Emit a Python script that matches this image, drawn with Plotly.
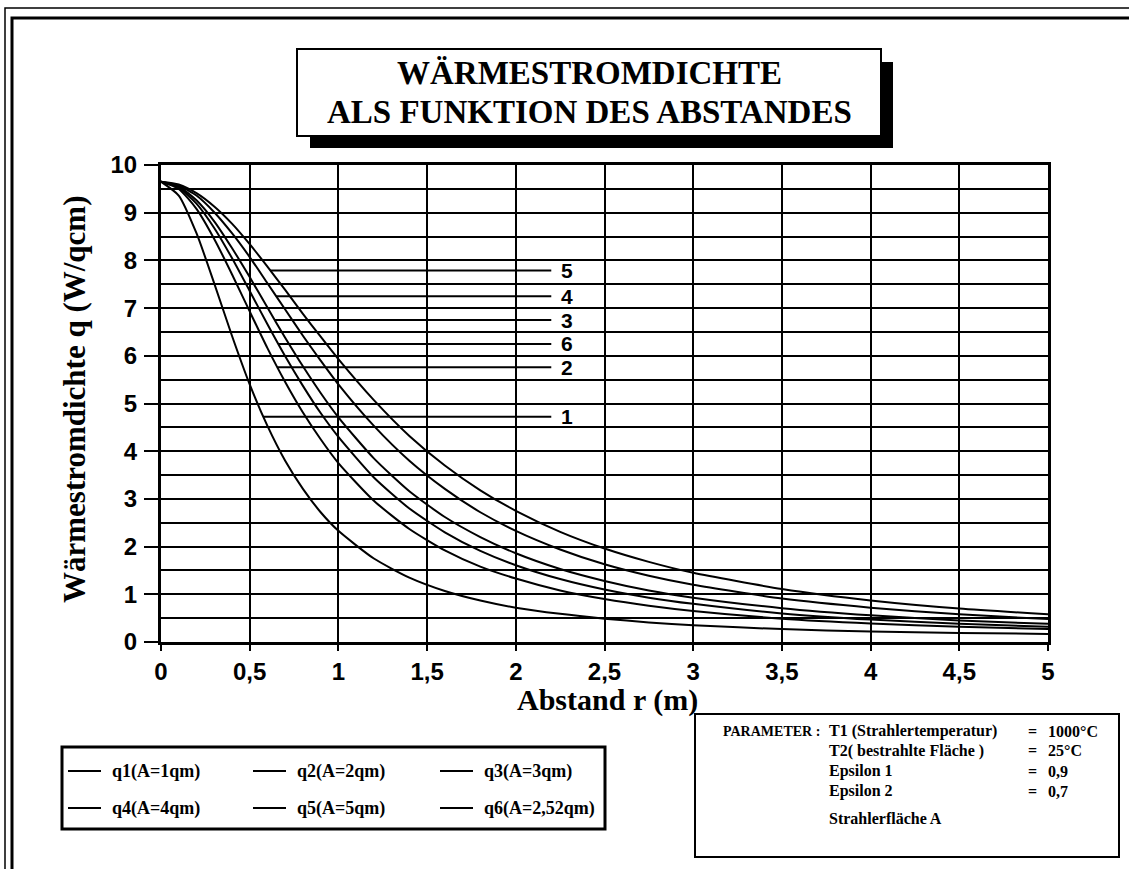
import numpy as np
import plotly.graph_objects as go

# Abstand r (m)
r = [0, 0.1, 0.2, 0.3, 0.4, 0.5, 0.6, 0.7, 0.8, 0.9, 1.0, 1.2, 1.4, 1.6, 1.8,
     2.0, 2.25, 2.5, 2.75, 3.0, 3.5, 4.0, 4.5, 5.0]

# Wärmestromdichte q (W/qcm) je Strahlerfläche
q1 = [9.65, 9.36, 8.57, 7.52, 6.42, 5.40, 4.53, 3.80, 3.21, 2.72, 2.33, 1.75, 1.35, 1.07, 0.87,
      0.72, 0.59, 0.49, 0.41, 0.35, 0.27, 0.22, 0.19, 0.17]
q2 = [9.65, 9.50, 9.08, 8.45, 7.71, 6.93, 6.16, 5.45, 4.81, 4.25, 3.75, 2.96, 2.37, 1.92, 1.58,
      1.33, 1.08, 0.90, 0.76, 0.65, 0.49, 0.39, 0.32, 0.27]
q3 = [9.65, 9.55, 9.26, 8.82, 8.26, 7.65, 7.01, 6.38, 5.78, 5.22, 4.71, 3.85, 3.16, 2.62, 2.20,
      1.86, 1.53, 1.28, 1.08, 0.93, 0.71, 0.56, 0.45, 0.38]
q4 = [9.65, 9.57, 9.36, 9.01, 8.57, 8.07, 7.52, 6.97, 6.42, 5.90, 5.40, 4.53, 3.80, 3.21, 2.72,
      2.33, 1.94, 1.63, 1.39, 1.20, 0.91, 0.72, 0.58, 0.48]
q5 = [9.65, 9.59, 9.41, 9.13, 8.77, 8.34, 7.87, 7.38, 6.88, 6.40, 5.93, 5.07, 4.32, 3.70, 3.18,
      2.75, 2.31, 1.96, 1.68, 1.45, 1.11, 0.87, 0.70, 0.58]
q6 = [9.65, 9.53, 9.19, 8.68, 8.05, 7.36, 6.66, 5.99, 5.37, 4.80, 4.30, 3.45, 2.80, 2.30, 1.91,
      1.61, 1.32, 1.10, 0.93, 0.80, 0.60, 0.47, 0.38, 0.32]

series = [q1, q2, q3, q4, q5, q6]
legend_names = ["q1(A=1qm)", "q2(A=2qm)", "q3(A=3qm)",
                "q4(A=4qm)", "q5(A=5qm)", "q6(A=2,52qm)"]

# Kurvenbeschriftung: Nummer und Höhe der Bezugslinie
curve_labels = ["5", "4", "3", "6", "2", "1"]
curve_label_q = [7.79, 7.25, 6.75, 6.25, 5.76, 4.72]

x_tickvals = [0, 0.5, 1, 1.5, 2, 2.5, 3, 3.5, 4, 4.5, 5]
x_ticktext = ["0", "0,5", "1", "1,5", "2", "2,5", "3", "3,5", "4", "4,5", "5"]
y_tickvals = [0, 1, 2, 3, 4, 5, 6, 7, 8, 9, 10]
y_ticktext = [str(v) for v in y_tickvals]
y_halfvals = [0.5, 1.5, 2.5, 3.5, 4.5, 5.5, 6.5, 7.5, 8.5, 9.5]

# Parameterangaben: Spalten Größe / "=" / Wert
param_head = "PARAMETER :"
param_rows = [
    ("T1 (Strahlertemperatur)", "=", "1000°C"),
    ("T2( bestrahlte Fläche )", "=", "25°C"),
    ("Epsilon 1", "=", "0,9"),
    ("Epsilon 2", "=", "0,7"),
    ("Strahlerfläche A", "", ""),
]

W, H = 1129, 869
L, R, T, B = 161, 81, 165, 227
PW, PH = W - L - R, H - T - B


def px(xp):
    return (xp - L) / PW


def py(yp):
    return (H - B - yp) / PH


SERIF = "Liberation Serif, Times New Roman, serif"
SANS = "Liberation Sans, Arial, sans-serif"
NARROW = "Liberation Sans Narrow, Arial Narrow, Liberation Sans, sans-serif"

fig = go.Figure()
for name, q in zip(legend_names, series):
    fig.add_trace(go.Scatter(x=r, y=q, mode="lines", name=name,
                             line=dict(color="black", width=2, shape="spline", smoothing=0.6),
                             showlegend=False, hoverinfo="skip"))

shapes = []
annotations = []

# Bezugslinien der Kurvennummern
label_series = {"1": q1, "2": q2, "3": q3, "4": q4, "5": q5, "6": q6}
for lab, qv in zip(curve_labels, curve_label_q):
    q = label_series[lab]
    x0 = float(np.interp(qv, q[::-1], r[::-1]))
    shapes.append(dict(type="line", xref="x", yref="y", x0=x0, x1=2.2, y0=qv, y1=qv,
                       line=dict(color="black", width=2)))
    annotations.append(dict(x=2.29, y=qv, xref="x", yref="y", text=lab, showarrow=False,
                            xanchor="center", yanchor="middle", borderpad=0,
                            font=dict(family=NARROW, size=21, color="black", weight="bold")))

# doppelter Rahmen
shapes.append(dict(type="rect", xref="paper", yref="paper", x0=px(5), x1=px(1140),
                   y0=py(880), y1=py(8), line=dict(color="black", width=1.5)))
shapes.append(dict(type="rect", xref="paper", yref="paper", x0=px(12), x1=px(1140),
                   y0=py(880), y1=py(18), line=dict(color="black", width=3)))

# Titelkasten mit Schatten
shapes.append(dict(type="rect", xref="paper", yref="paper", x0=px(310), x1=px(893),
                   y0=py(148), y1=py(62), fillcolor="black", line=dict(width=0)))
shapes.append(dict(type="rect", xref="paper", yref="paper", x0=px(297), x1=px(881),
                   y0=py(136), y1=py(49), fillcolor="white", line=dict(color="black", width=2)))
annotations.append(dict(x=px(589), y=py(73), xref="paper", yref="paper",
                        text="WÄRMESTROMDICHTE", showarrow=False, xanchor="center", yanchor="middle",
                        font=dict(family=SERIF, size=33, color="black", weight="bold")))
annotations.append(dict(x=px(589), y=py(112), xref="paper", yref="paper",
                        text="ALS FUNKTION DES ABSTANDES", showarrow=False, xanchor="center",
                        yanchor="middle",
                        font=dict(family=SERIF, size=33, color="black", weight="bold")))

# Achsentitel
annotations.append(dict(x=px(74), y=py(399), xref="paper", yref="paper",
                        text="Wärmestromdichte q (W/qcm)", showarrow=False, textangle=-90,
                        xanchor="center", yanchor="middle",
                        font=dict(family=SERIF, size=31, color="black", weight="bold")))
annotations.append(dict(x=px(607), y=py(700), xref="paper", yref="paper",
                        text="Abstand r (m)", showarrow=False, xanchor="center", yanchor="middle",
                        font=dict(family=SERIF, size=30, color="black", weight="bold")))

# Legende
shapes.append(dict(type="rect", xref="paper", yref="paper", x0=px(62), x1=px(605),
                   y0=py(829), y1=py(747), line=dict(color="black", width=3)))
col_x = [68, 253, 440]
row_y = [771, 808]
for i, name in enumerate(legend_names):
    cx = col_x[i % 3]
    ry = row_y[i // 3]
    shapes.append(dict(type="line", xref="paper", yref="paper", x0=px(cx), x1=px(cx + 33),
                       y0=py(ry), y1=py(ry), line=dict(color="black", width=2)))
    annotations.append(dict(x=px(cx + 42), y=py(ry), xref="paper", yref="paper", text=name,
                            showarrow=False, xanchor="left", yanchor="middle",
                            font=dict(family=SERIF, size=18, color="black", weight="bold")))

# Parameterkasten
shapes.append(dict(type="rect", xref="paper", yref="paper", x0=px(695), x1=px(1119),
                   y0=py(857), y1=py(714), line=dict(color="black", width=2)))
param_y = [731, 751, 771, 791, 818]
annotations.append(dict(x=px(721), y=py(param_y[0]), xref="paper", yref="paper",
                        text=param_head, showarrow=False, xanchor="left", yanchor="middle",
                        font=dict(family=SERIF, size=14, color="black", weight="bold")))
for (c1, c2, c3), yy in zip(param_rows, param_y):
    for txt, xx in ((c1, 827), (c2, 1026), (c3, 1046)):
        if txt:
            annotations.append(dict(x=px(xx), y=py(yy), xref="paper", yref="paper", text=txt,
                                    showarrow=False, xanchor="left", yanchor="middle",
                                    font=dict(family=SERIF, size=16, color="black",
                                              weight="bold")))

fig.update_layout(
    width=W, height=H,
    margin=dict(l=L, r=R, t=T, b=B),
    paper_bgcolor="white", plot_bgcolor="white",
    shapes=shapes, annotations=annotations,
    showlegend=False,
)
fig.update_xaxes(
    range=[0, 5], tickmode="array", tickvals=x_tickvals, ticktext=x_ticktext,
    ticks="outside", ticklen=6, tickwidth=2, tickcolor="black",
    showgrid=True, gridcolor="black", gridwidth=2,
    showline=True, linecolor="black", linewidth=3, mirror=True, zeroline=False,
    ticklabelstandoff=0,
    tickfont=dict(family=NARROW, size=24, color="black", weight="bold"),
)
fig.update_yaxes(
    range=[0, 10], tickmode="array", tickvals=y_tickvals, ticktext=y_ticktext,
    ticks="outside", ticklen=14, tickwidth=2, tickcolor="black",
    showgrid=True, gridcolor="black", gridwidth=2,
    minor=dict(tickmode="array", tickvals=y_halfvals, showgrid=True, gridcolor="black",
               gridwidth=2, ticks=""),
    showline=True, linecolor="black", linewidth=3, mirror=True, zeroline=False,
    ticklabelstandoff=2,
    tickfont=dict(family=SANS, size=24, color="black", weight="bold"),
)

fig.write_html("out.html")
